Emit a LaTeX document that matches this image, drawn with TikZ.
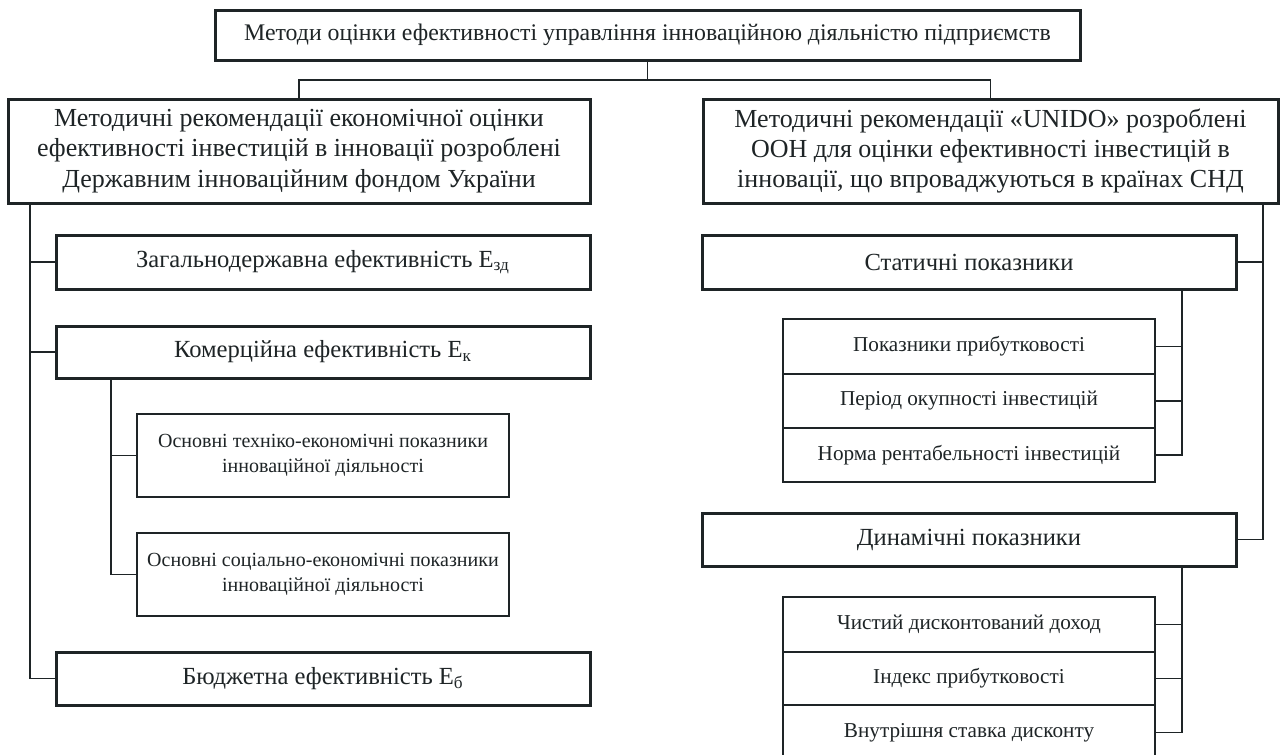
\documentclass[tikz,border=0pt]{standalone}
\usepackage{fontspec}
\setmainfont{Liberation Serif}
\definecolor{ink}{HTML}{1E2426}
\tikzset{
  bigbox/.style={draw=ink, line width=1.5pt, fill=white, inner sep=0pt, align=center, text=ink, font=\fontsize{13}{15.2}\selectfont},
  midfont/.style={font=\fontsize{12.3}{14}\selectfont},
  subbox/.style={draw=ink, line width=0.7pt, fill=white, inner sep=0pt, align=center, text=ink, font=\fontsize{10}{12.2}\selectfont},
  cellbox/.style={subbox, minimum width=186pt, font=\fontsize{10.6}{12.5}\selectfont},
  link/.style={draw=ink, line width=0.7pt}
}
\begin{document}
\begin{tikzpicture}[x=0.5pt,y=-0.5pt]
\clip (0,0) rectangle (1280,755);
\fill[white] (0,0) rectangle (1280,755);
% top
\node[bigbox, minimum width=432.5pt, minimum height=25pt, font=\fontsize{11.9}{14}\selectfont] (top) at (647.5,35) {Методи оцінки ефективності управління інноваційною діяльністю підприємств};
% level 1
\node[bigbox, minimum width=291pt, minimum height=52pt] (L1) at (299,151) {Методичні рекомендації економічної оцінки\\ефективності інвестицій в інновації розроблені\\Державним інноваційним фондом України};
\node[bigbox, minimum width=287.5pt, minimum height=52pt] (R1) at (990.5,151) {Методичні рекомендації «UNIDO» розроблені\\ООН для оцінки ефективності інвестицій в\\інновації, що впроваджуються в країнах СНД};
% left level 2
\node[bigbox, midfont, minimum width=267pt, minimum height=27pt] (L2a) at (323,262) {Загальнодержавна ефективність Е\textsubscript{зд}};
\node[bigbox, midfont, minimum width=267pt, minimum height=26pt] (L2b) at (323,352) {Комерційна ефективність Е\textsubscript{к}};
\node[bigbox, midfont, minimum width=267pt, minimum height=26.5pt] (L2c) at (323,678.5) {Бюджетна ефективність Е\textsubscript{б}};
\node[subbox, minimum width=186pt, minimum height=41.5pt] (Sa) at (323,455.5) {Основні техніко-економічні показники\\інноваційної діяльності};
\node[subbox, minimum width=186pt, minimum height=41.5pt] (Sb) at (323,574.5) {Основні соціально-економічні показники\\інноваційної діяльності};
% right level 2
\node[bigbox, midfont, minimum width=267pt, minimum height=27pt] (R2a) at (969,262) {Статичні показники};
\node[bigbox, midfont, minimum width=267pt, minimum height=26.5pt] (R2b) at (969,539.5) {Динамічні показники};
\node[cellbox, minimum height=27.5pt] (s1) at (969,346.5) {Показники прибутковості};
\node[cellbox, minimum height=27pt] (s2) at (969,401) {Період окупності інвестицій};
\node[cellbox, minimum height=27pt] (s3) at (969,455) {Норма рентабельності інвестицій};
\node[cellbox, minimum height=27.5pt] (d1) at (969,624.5) {Чистий дисконтований доход};
\node[cellbox, minimum height=26.5pt] (d2) at (969,678.5) {Індекс прибутковості};
\node[cellbox, minimum height=27.5pt] (d3) at (969,732.5) {Внутрішня ставка дисконту};
% connectors
\coordinate (j) at (647.5,80);
\draw[link] (top.south) -- (j);
\draw[link] (L1.north) |- (j) -| (R1.north);
\coordinate (lt) at (30,203);
\draw[link] (lt) |- (L2c.west);
\draw[link] (lt |- L2a.west) -- (L2a.west);
\draw[link] (lt |- L2b.west) -- (L2b.west);
\coordinate (st) at (111,378);
\draw[link] (st) |- (Sb.west);
\draw[link] (st |- Sa.west) -- (Sa.west);
\coordinate (rt) at (1263,203);
\draw[link] (rt) |- (R2b.east);
\draw[link] (rt |- R2a.east) -- (R2a.east);
\coordinate (sst) at (1182,289);
\draw[link] (sst) |- (s3.east);
\draw[link] (sst |- s1.east) -- (s1.east);
\draw[link] (sst |- s2.east) -- (s2.east);
\coordinate (dst) at (1182,566);
\draw[link] (dst) |- (d3.east);
\draw[link] (dst |- d1.east) -- (d1.east);
\draw[link] (dst |- d2.east) -- (d2.east);
\end{tikzpicture}
\end{document}
